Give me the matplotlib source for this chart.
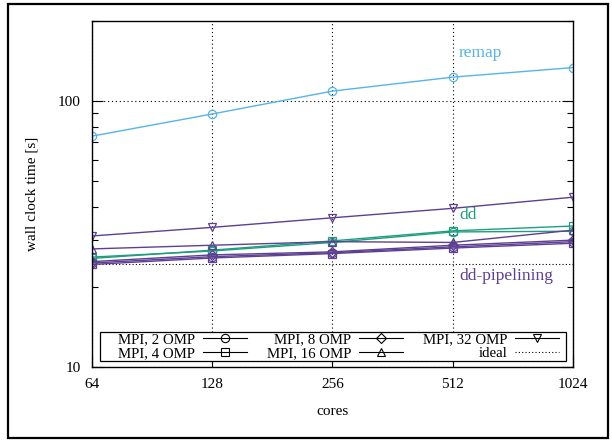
import matplotlib.pyplot as plt
from matplotlib.lines import Line2D
from matplotlib.patches import Rectangle
from matplotlib.ticker import FixedLocator, NullLocator, LogLocator, NullFormatter

plt.rcParams['font.family'] = ['Liberation Serif', 'DejaVu Serif']
plt.rcParams['mathtext.fontset'] = 'stix'

# Wall clock times per core count
cores = [64, 128, 256, 512, 1024]
remap = [73.8, 89.4, 109.0, 123.0, 133.6]

dd_2omp = [25.9, 27.3, 29.4, 32.2, 32.4]
dd_4omp = [25.6, 27.5, 29.8, 32.5, 33.9]

pipe_2omp = [24.6, 26.0, 26.9, 28.3, 29.6]
pipe_4omp = [24.3, 25.7, 26.7, 28.0, 29.2]
pipe_8omp = [24.9, 26.4, 27.1, 28.7, 30.0]
pipe_16omp = [27.8, 28.7, 29.6, 29.4, 32.7]
pipe_32omp = [31.1, 33.5, 36.4, 39.5, 43.5]

ideal = 24.5

C_REMAP = '#56B4E9'
C_DD = '#1E9E7E'
C_PIPE = '#5D3F93'

fig = plt.figure(figsize=(6.12, 4.40), dpi=100)
ax = fig.add_axes([0.1503, 0.1659, 0.786, 0.7864])

# outer frame
fig.patches.append(Rectangle((0.013, 0.004), 0.98, 0.986, transform=fig.transFigure,
                             fill=False, edgecolor='black', linewidth=1.6))

mk = dict(markersize=6, markerfacecolor='none', markeredgewidth=0.9, linewidth=1.0)

ax.plot(cores, [ideal] * len(cores), color='black', linestyle=(0, (1, 2)), linewidth=0.8)

ax.plot(cores, remap, color=C_REMAP, marker='o', **mk)

ax.plot(cores, dd_2omp, color=C_DD, marker='o', **mk)
ax.plot(cores, dd_4omp, color=C_DD, marker='s', **mk)

ax.plot(cores, pipe_2omp, color=C_PIPE, marker='o', **mk)
ax.plot(cores, pipe_4omp, color=C_PIPE, marker='s', **mk)
ax.plot(cores, pipe_8omp, color=C_PIPE, marker='D', **dict(mk, markersize=5))
ax.plot(cores, pipe_16omp, color=C_PIPE, marker='^', **mk)
ax.plot(cores, pipe_32omp, color=C_PIPE, marker='v', **mk)

ax.set_xscale('log', base=2)
ax.set_yscale('log')
ax.set_xlim(64, 1024)
ax.set_ylim(10, 200)

ax.xaxis.set_major_locator(FixedLocator(cores))
ax.xaxis.set_major_formatter(plt.FixedFormatter([str(c) for c in cores]))
ax.xaxis.set_minor_locator(NullLocator())
ax.yaxis.set_major_locator(FixedLocator([10, 100]))
ax.yaxis.set_major_formatter(plt.FixedFormatter(['10', '100']))
ax.yaxis.set_minor_locator(LogLocator(base=10, subs=range(2, 10)))
ax.yaxis.set_minor_formatter(NullFormatter())

ax.tick_params(which='both', direction='in', top=True, right=True, labelsize=11, pad=8)
ax.tick_params(which='major', length=8, width=0.8)
ax.tick_params(which='minor', length=4, width=0.8)
ax.tick_params(axis='x', which='major', top=False)

for s in ax.spines.values():
    s.set_linewidth(1.0)

ax.grid(True, which='major', color='black', linestyle=(0, (1, 2.5)), linewidth=0.8)

ax.set_xlabel('cores', fontsize=11, labelpad=10)
ax.set_ylabel('wall clock time [s]', fontsize=11, labelpad=14)

ax.text(531, 151, 'remap', color=C_REMAP, fontsize=12.5, ha='left', va='center')
ax.text(531, 37.3, 'dd', color=C_DD, fontsize=12.5, ha='left', va='center')
ax.text(531, 22.0, 'dd-pipelining', color=C_PIPE, fontsize=12.5, ha='left', va='center')

# legend box drawn separately so the entries can sit off-centre inside it
ax.add_patch(Rectangle((0.0166, 0.0173), 0.9688, 0.0838, transform=ax.transAxes,
                       facecolor='white', edgecolor='black', linewidth=0.9, zorder=4))

lk = dict(color='black', markerfacecolor='none', markeredgewidth=0.8, linewidth=0.8, markersize=6)
handles = [
    Line2D([], [], marker='o', **lk),
    Line2D([], [], marker='s', **lk),
    Line2D([], [], marker='D', **dict(lk, markersize=5)),
    Line2D([], [], marker='^', **lk),
    Line2D([], [], marker='v', **lk),
    Line2D([], [], color='black', linestyle=(0, (1, 2)), linewidth=0.8),
]
labels = ['MPI, 2 OMP', 'MPI, 4 OMP', 'MPI, 8 OMP', 'MPI, 16 OMP', 'MPI, 32 OMP', 'ideal']
leg = ax.legend(handles, labels, ncol=3, markerfirst=False, loc='center',
                bbox_to_anchor=(0.513, 0.0592), fontsize=10.7, frameon=False,
                borderpad=0.0, labelspacing=0.0,
                handlelength=3.0, handletextpad=0.5, columnspacing=1.3, borderaxespad=0)
leg.set_zorder(5)

fig.savefig('out.png', dpi=100)
